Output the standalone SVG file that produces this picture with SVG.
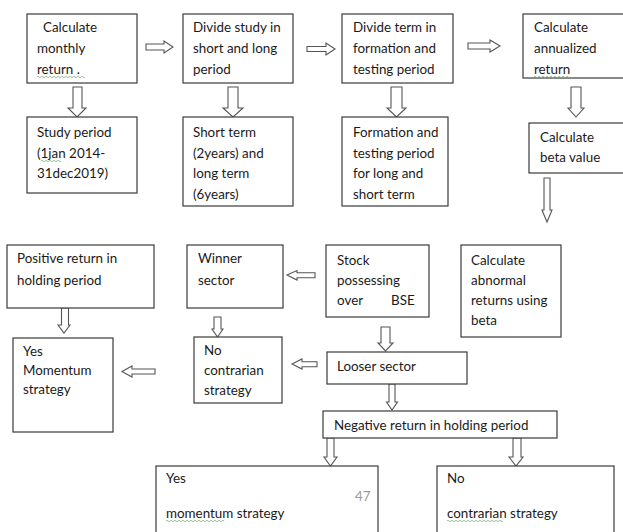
<svg xmlns="http://www.w3.org/2000/svg" width="623" height="532" viewBox="0 0 623 532">
<style>
.box{fill:#fff;stroke:#3a3a3a;stroke-width:1.2}
.t{font-family:Lato,"Liberation Sans",sans-serif;font-size:13.4px;fill:#1a1a1a}
.arr{fill:#fff;stroke:#555;stroke-width:1.1;stroke-linejoin:miter}
.sq{fill:none;stroke:#7fb37f;stroke-width:0.8}
.pg{font-family:Lato,"Liberation Sans",sans-serif;font-size:13.4px;fill:#9a9a9a}
</style>
<rect width="623" height="532" fill="#fff"/>
<g id="connectors">
<path class="arr" d="M146,44 L164,44 L164,41 L173,47 L164,53 L164,50 L146,50 Z"/>
<path class="arr" d="M307,46.5 L326,46.5 L326,43 L335,49 L326,55 L326,51.5 L307,51.5 Z"/>
<path class="arr" d="M468,43 L490,43 L490,40 L500,46 L490,52 L490,49 L468,49 Z"/>
<path class="arr" d="M73,87 L82,87 L82,108 L86,108 L77,117 L68,108 L73,108 Z"/>
<path class="arr" d="M228,87 L238,87 L238,108 L243,108 L233,117 L223,108 L228,108 Z"/>
<path class="arr" d="M391,87 L402,87 L402,108 L406,108 L396.5,117 L387,108 L391,108 Z"/>
<path class="arr" d="M571,87 L581,87 L581,108 L584,108 L576,117 L568,108 L571,108 Z"/>
<path class="arr" d="M544,178 L550,178 L550,210 L552,210 L547,222 L542,210 L544,210 Z"/>
<path class="arr" d="M315,272.7 L297,272.7 L297,270.5 L287,275 L297,280 L297,277.7 L315,277.7 Z"/>
<path class="arr" d="M61.5,308 L68.5,308 L68.5,325 L70,325 L64,333 L58,325 L61.5,325 Z"/>
<path class="arr" d="M155,369 L132,369 L132,366 L122,371.5 L132,377 L132,374 L155,374 Z"/>
<path class="arr" d="M214,317 L221,317 L221,329 L223,329 L217.5,337 L212,329 L214,329 Z"/>
<path class="arr" d="M317,361.7 L302,361.7 L302,359 L292,364 L302,369 L302,366.7 L317,366.7 Z"/>
<path class="arr" d="M381,327 L390,327 L390,343 L393,343 L385.5,351 L378,343 L381,343 Z"/>
<path class="arr" d="M389,384 L395,384 L395,402 L397.5,402 L392,410 L386.5,402 L389,402 Z"/>
<path class="arr" d="M327,438 L334,438 L334,457 L337,457 L330.5,466 L324,457 L327,457 Z"/>
<path class="arr" d="M513,438 L521,438 L521,457 L523,457 L516,466 L509,457 L513,457 Z"/>
</g>
<g id="n1"><rect class="box" x="27" y="14" width="110" height="69"/>
<text class="t" x="43" y="32">Calculate</text><text class="t" x="37" y="53">monthly</text><text class="t" x="37" y="74">return .</text>
<path class="sq" d="M37,77 q1,-1.5 2,0 t2,0 t2,0 t2,0 t2,0 t2,0 t2,0 t2,0 t2,0 t2,0 t2,0 t2,0 t2,0 t2,0 t2,0 t2,0 t2,0 t2,0 t2,0 t2,0 t2,0 t2,0 t2,0 t2,0"/></g>
<g id="n2"><rect class="box" x="183" y="14" width="110" height="69"/>
<text class="t" x="193" y="32">Divide study in</text><text class="t" x="193" y="53">short and long</text><text class="t" x="193" y="74">period</text></g>
<g id="n3"><rect class="box" x="342" y="14" width="111" height="69"/>
<text class="t" x="353" y="32">Divide term in</text><text class="t" x="353" y="53">formation and</text><text class="t" x="353" y="74">testing period</text></g>
<g id="n4"><rect class="box" x="523" y="14" width="104" height="64"/>
<text class="t" x="534" y="32">Calculate</text><text class="t" x="534" y="53">annualized</text><text class="t" x="534" y="74">return</text>
<path class="sq" d="M534,77 q1,-1.5 2,0 t2,0 t2,0 t2,0 t2,0 t2,0 t2,0 t2,0 t2,0 t2,0 t2,0 t2,0 t2,0 t2,0 t2,0 t2,0 t2,0 t2,0"/></g>
<g id="n5"><rect class="box" x="27" y="117" width="110" height="76"/>
<text class="t" x="37" y="137">Study period</text><text class="t" x="37" y="158">(1jan 2014-</text><text class="t" x="37" y="178">31dec2019)</text>
<path class="sq" d="M41,161 q1,-1.5 2,0 t2,0 t2,0 t2,0 t2,0 t2,0 t2,0 t2,0 t2,0 t2,0"/></g>
<g id="n6"><rect class="box" x="183" y="117" width="110" height="89"/>
<text class="t" x="193" y="137">Short term</text><text class="t" x="193" y="158">(2years) and</text><text class="t" x="193" y="178">long term</text><text class="t" x="193" y="199">(6years)</text></g>
<g id="n7"><rect class="box" x="342" y="117" width="106" height="89"/>
<text class="t" x="353" y="137">Formation and</text><text class="t" x="353" y="158">testing period</text><text class="t" x="353" y="178">for long and</text><text class="t" x="353" y="199">short term</text></g>
<g id="n8"><rect class="box" x="529" y="123" width="98" height="50"/>
<text class="t" x="540" y="142">Calculate</text><text class="t" x="540" y="162">beta value</text></g>
<g id="n9"><rect class="box" x="7" y="245" width="147" height="63"/>
<text class="t" x="17" y="263">Positive return in</text><text class="t" x="17" y="285">holding period</text></g>
<g id="n10"><rect class="box" x="187" y="245" width="96" height="63"/>
<text class="t" x="198" y="263">Winner</text><text class="t" x="198" y="285">sector</text></g>
<g id="n11"><rect class="box" x="326" y="245" width="103" height="72"/>
<text class="t" x="337" y="265">Stock</text><text class="t" x="337" y="285">possessing</text><text class="t" x="337" y="305">over</text><text class="t" x="391" y="305">BSE</text></g>
<g id="n12"><rect class="box" x="461" y="245" width="100" height="92"/>
<text class="t" x="471" y="265">Calculate</text><text class="t" x="471" y="285">abnormal</text><text class="t" x="471" y="305">returns using</text><text class="t" x="471" y="325">beta</text></g>
<g id="n13"><rect class="box" x="13" y="338" width="100" height="94"/>
<text class="t" x="23" y="356">Yes</text><text class="t" x="23" y="375">Momentum</text><text class="t" x="23" y="394">strategy</text></g>
<g id="n14"><rect class="box" x="194" y="337" width="88" height="66"/>
<text class="t" x="204" y="355">No</text><text class="t" x="204" y="375">contrarian</text><text class="t" x="204" y="395">strategy</text></g>
<g id="n15"><rect class="box" x="327" y="352" width="140" height="32"/>
<text class="t" x="337" y="371">Looser sector</text></g>
<g id="n16"><rect class="box" x="323" y="411" width="234" height="27"/>
<text class="t" x="334" y="430">Negative return in holding period</text></g>
<g id="n17"><rect class="box" x="156" y="466" width="222" height="80"/>
<text class="t" x="166" y="483">Yes</text><text class="pg" x="355" y="501">47</text><text class="t" x="166" y="518">momentum strategy</text>
<path class="sq" d="M166,521 q1,-1.5 2,0 t2,0 t2,0 t2,0 t2,0 t2,0 t2,0 t2,0 t2,0 t2,0 t2,0 t2,0 t2,0 t2,0 t2,0 t2,0 t2,0 t2,0 t2,0 t2,0 t2,0 t2,0 t2,0 t2,0 t2,0 t2,0 t2,0 t2,0 t2,0"/></g>
<g id="n18"><rect class="box" x="437" y="466" width="177" height="80"/>
<text class="t" x="447" y="483">No</text><text class="t" x="447" y="518">contrarian strategy</text>
<path class="sq" d="M447,521 q1,-1.5 2,0 t2,0 t2,0 t2,0 t2,0 t2,0 t2,0 t2,0 t2,0 t2,0 t2,0 t2,0 t2,0 t2,0 t2,0 t2,0 t2,0 t2,0 t2,0 t2,0 t2,0 t2,0 t2,0 t2,0 t2,0 t2,0 t2,0 t2,0"/></g>
</svg>
